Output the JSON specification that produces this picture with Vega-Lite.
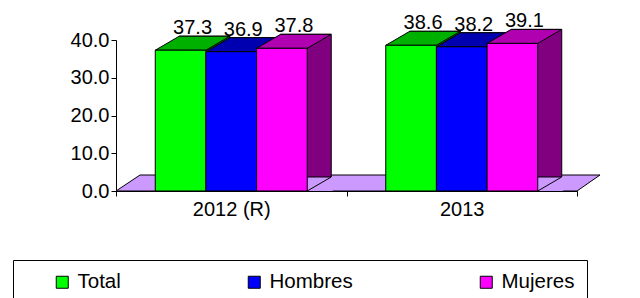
{
  "$schema": "https://vega.github.io/schema/vega-lite/v6.json",
  "width": 461,
  "height": 151,
  "autosize": {"type": "none"},
  "padding": {"left": 116, "top": 40, "right": 63, "bottom": 107},
  "background": "white",
  "config": {
    "view": {"stroke": null},
    "font": "Liberation Sans",
    "axisX": {"domainColor": "black", "tickColor": "black", "labelColor": "black", "labelFontSize": 20, "labelFont": "Liberation Sans", "labelAngle": 0, "tickSize": 5, "labelPadding": 3, "tickBand": "extent", "grid": false, "zindex": 1},
    "axisY": {"domainColor": "black", "tickColor": "black", "labelColor": "black", "labelFontSize": 20, "labelFont": "Liberation Sans", "tickSize": 5, "labelPadding": 2, "grid": false, "zindex": 1, "labelOverlap": false, "tickCount": 5}
  },
  "data": {"values": [
    {"year": "2012 (R)", "sex": "Total", "value": 37.3},
    {"year": "2012 (R)", "sex": "Hombres", "value": 36.9},
    {"year": "2012 (R)", "sex": "Mujeres", "value": 37.8},
    {"year": "2013", "sex": "Total", "value": 38.6},
    {"year": "2013", "sex": "Hombres", "value": 38.2},
    {"year": "2013", "sex": "Mujeres", "value": 39.1}
  ]},
  "layer": [
    {
      "data": {"values": [{}]},
      "mark": {"type": "point", "shape": "M-115.25,0L-91.25,-16L368.75,-16L345.75,0Z", "size": 4, "filled": true, "fill": "#CC99FF", "stroke": "black", "strokeWidth": 1, "opacity": 1},
      "encoding": {
        "x": {"datum": "2012 (R)", "type": "nominal", "title": null, "scale": {"type": "band", "domain": ["2012 (R)", "2013"], "paddingInner": 0, "paddingOuter": 0}},
        "y": {"datum": 0, "type": "quantitative", "title": null, "scale": {"domain": [0, 40], "nice": false}, "axis": {"format": ".1f", "values": [0, 10, 20, 30, 40]}}
      }
    },
    {
      "mark": {"type": "bar", "yOffset": -14, "stroke": "black", "strokeWidth": 1},
      "encoding": {
        "x": {"field": "year", "type": "nominal", "title": null},
        "xOffset": {"field": "sex", "type": "nominal", "scale": {"type": "band", "domain": ["Total", "Hombres", "Mujeres"], "paddingInner": 0, "paddingOuter": 0.775, "range": [24, 254.5]}},
        "y": {"field": "value", "type": "quantitative", "title": null, "axis": {"format": ".1f", "values": [0, 10, 20, 30, 40]}},
        "fill": {"field": "sex", "type": "nominal", "scale": {"domain": ["Total", "Hombres", "Mujeres"], "range": ["#008000", "#000080", "#800080"]}, "legend": null}
      }
    },
    {
      "mark": {"type": "point", "shape": "M25.3,0L49.3,-14L50.8,-14L50.8,0Z", "size": 4, "filled": true, "fill": "#CC99FF", "strokeWidth": 0, "opacity": 1},
      "encoding": {
        "x": {"field": "year", "type": "nominal", "title": null},
        "xOffset": {"field": "sex", "type": "nominal", "scale": {"type": "band", "domain": ["Total", "Hombres", "Mujeres"], "paddingInner": 0, "paddingOuter": 0.775}},
        "y": {"datum": 0, "type": "quantitative", "title": null, "axis": {"format": ".1f", "values": [0, 10, 20, 30, 40]}}
      }
    },
    {
      "mark": {"type": "point", "shape": "M25.3,0L49.3,-14", "size": 4, "filled": false, "stroke": "black", "strokeWidth": 1, "opacity": 1},
      "encoding": {
        "x": {"field": "year", "type": "nominal", "title": null},
        "xOffset": {"field": "sex", "type": "nominal", "scale": {"type": "band", "domain": ["Total", "Hombres", "Mujeres"], "paddingInner": 0, "paddingOuter": 0.775}},
        "y": {"datum": 0, "type": "quantitative", "title": null, "axis": {"format": ".1f", "values": [0, 10, 20, 30, 40]}}
      }
    },
    {
      "mark": {"type": "point", "shape": "M-25.3,0L25.3,0L49.3,-14L-1.3,-14Z", "size": 4, "filled": true, "stroke": "black", "strokeWidth": 1, "opacity": 1},
      "encoding": {
        "x": {"field": "year", "type": "nominal", "title": null},
        "xOffset": {"field": "sex", "type": "nominal", "scale": {"type": "band", "domain": ["Total", "Hombres", "Mujeres"], "paddingInner": 0, "paddingOuter": 0.775}},
        "y": {"field": "value", "type": "quantitative", "title": null, "axis": {"format": ".1f", "values": [0, 10, 20, 30, 40]}},
        "fill": {"field": "sex", "type": "nominal", "scale": {"domain": ["Total", "Hombres", "Mujeres"], "range": ["#00B000", "#0000B0", "#B000B0"]}, "legend": null}
      }
    },
    {
      "mark": {"type": "bar", "stroke": "black", "strokeWidth": 1},
      "encoding": {
        "x": {"field": "year", "type": "nominal", "title": null},
        "xOffset": {"field": "sex", "type": "nominal", "scale": {"type": "band", "domain": ["Total", "Hombres", "Mujeres"], "paddingInner": 0, "paddingOuter": 0.775}},
        "y": {"field": "value", "type": "quantitative", "title": null, "axis": {"format": ".1f", "values": [0, 10, 20, 30, 40]}},
        "color": {"field": "sex", "type": "nominal", "scale": {"domain": ["Total", "Hombres", "Mujeres"], "range": ["#00FF00", "#0000FF", "#FF00FF"]},
          "legend": {"title": " ", "titleOrient": "left", "titlePadding": 27, "orient": "none", "legendX": -103, "legendY": 220, "direction": "horizontal", "columns": 3, "gridAlign": "none", "columnPadding": 123, "padding": 12, "strokeColor": "black", "symbolType": "square", "symbolSize": 144, "symbolStrokeColor": "black", "symbolStrokeWidth": 1, "symbolOpacity": 1, "labelFontSize": 20.5, "labelFont": "Liberation Sans", "labelColor": "black", "labelOffset": 5}}
      }
    },
    {
      "mark": {"type": "text", "dx": 12, "dy": -16, "baseline": "alphabetic", "align": "center", "fontSize": 20, "font": "Liberation Sans", "fill": "black"},
      "encoding": {
        "x": {"field": "year", "type": "nominal", "title": null},
        "xOffset": {"field": "sex", "type": "nominal", "scale": {"type": "band", "domain": ["Total", "Hombres", "Mujeres"], "paddingInner": 0, "paddingOuter": 0.775}},
        "y": {"field": "value", "type": "quantitative", "title": null, "axis": {"format": ".1f", "values": [0, 10, 20, 30, 40]}},
        "text": {"field": "value", "type": "quantitative", "format": ".1f"}
      }
    }
  ],
  "resolve": {"scale": {"fill": "independent", "xOffset": "independent"}}
}
